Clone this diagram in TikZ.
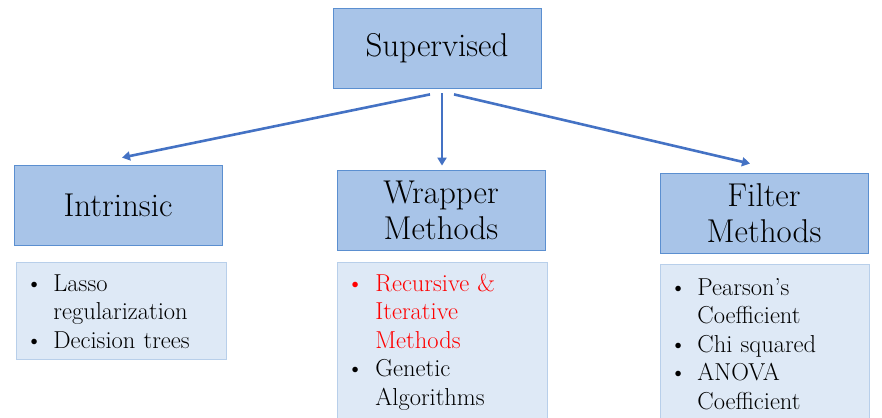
\documentclass[tikz,border=0pt]{standalone}
\usetikzlibrary{arrows.meta}

\definecolor{boxfill}{RGB}{168,196,232}
\definecolor{boxline}{RGB}{91,143,208}
\definecolor{listfill}{RGB}{222,233,246}
\definecolor{listline}{RGB}{184,207,234}
\definecolor{arrowblue}{RGB}{68,114,196}

\newcommand{\bitem}{\textbullet}

\begin{document}
\begin{tikzpicture}[x=1pt, y=-1pt,
    catbox/.style={draw=boxline, fill=boxfill, thick, minimum width=208pt,
        minimum height=80pt, align=center, font=\fontsize{33}{36}\selectfont},
    listbox/.style={draw=listline, fill=listfill, thick, anchor=north west,
        text width=210pt, inner xsep=0pt, inner ysep=2pt, align=left,
        font=\fontsize{24.5}{28.5}\selectfont},
    link/.style={arrowblue, line width=2.6pt, -{Triangle[width=9pt,length=8pt]}}
]
\useasboundingbox (0,0) rectangle (882,417);

% Top box
\node[catbox] (sup) at (437,48) {Supervised};

% Method boxes
\node[catbox] (intr) at (118,205) {Intrinsic};
\node[catbox] (wrap) at (441,210) {Wrapper\\Methods};
\node[catbox] (filt) at (764,213) {Filter\\Methods};

% Lists
\node[listbox] (intrlist) at (16,262) {%
  \begin{tabular}{@{\hspace{9pt}}p{28pt}@{}l@{}}
  \noalign{\vskip7pt}
  \bitem & Lasso\\
         & regularization\\
  \bitem & Decision trees
  \end{tabular}};
\node[listbox] (wraplist) at (337,262) {%
  \begin{tabular}{@{\hspace{9pt}}p{29pt}@{}l@{}}
  \noalign{\vskip7pt}
  \textcolor{red}{\bitem} & \textcolor{red}{Recursive \&}\\
         & \textcolor{red}{Iterative}\\
         & \textcolor{red}{Methods}\\
  \bitem & Genetic\\
         & Algorithms\\
         & \\
  \end{tabular}};
\node[listbox, text width=209pt] (filtlist) at (660,264) {%
  \begin{tabular}{@{\hspace{9pt}}p{28pt}@{}l@{}}
  \noalign{\vskip9pt}
  \bitem & Pearson's\\
         & Coefficient\\
  \bitem & Chi squared\\
  \bitem & ANOVA\\
         & Coefficient\\
         & \\
  \end{tabular}};

% Arrows
\draw[link] ([xshift=-7pt,yshift=-6pt]sup.south) -- ([xshift=4pt,yshift=7pt]intr.north);
\draw[link] ([xshift=5pt,yshift=-5pt]sup.south) -- ([xshift=1pt,yshift=4pt]wrap.north);
\draw[link] ([xshift=17pt,yshift=-6pt]sup.south) -- ([xshift=-14pt,yshift=9pt]filt.north);

\end{tikzpicture}
\end{document}
